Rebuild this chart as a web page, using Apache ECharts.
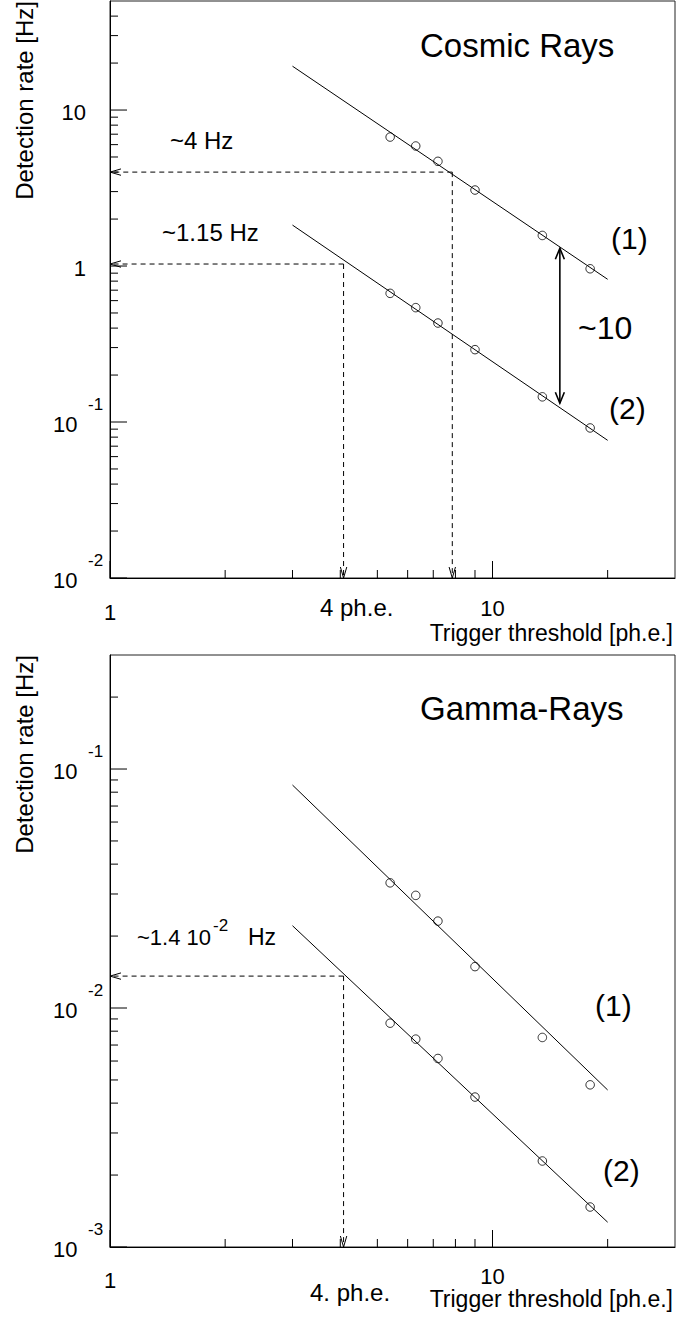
<!DOCTYPE html>
<html><head><meta charset="utf-8">
<script src="https://cdn.jsdelivr.net/npm/echarts@6/dist/echarts.min.js"></script>
<style>html,body{margin:0;padding:0;background:#fff}#c{width:680px;height:1322px}</style>
</head><body><div id="c"></div><script>
// ---- data ----
const thresholds = [5.4, 6.3, 7.2, 9.0, 13.5, 18.0];
const cosmic1 = [6.71, 5.88, 4.69, 3.07, 1.57, 0.96];
const cosmic2 = [0.668, 0.541, 0.431, 0.291, 0.145, 0.0916];
const gamma1 = [0.0334, 0.0296, 0.0231, 0.0149, 0.00753, 0.00477];
const gamma2 = [0.00864, 0.00741, 0.00615, 0.00424, 0.00229, 0.00147];
const fitX = [3, 20];
const cosmicFit1 = [19.1, 0.822];
const cosmicFit2 = [1.83, 0.0763];
const gammaFit1 = [0.0857, 0.00454];
const gammaFit2 = [0.0221, 0.00127];
// guide arrows [xFrom, yFrom, xTo, yTo]
const cosmicGuides = [[7.85, 4, 1, 4], [7.85, 4, 7.85, 0.01], [4.08, 1.03, 1, 1.03], [4.08, 1.03, 4.08, 0.01]];
const cosmicRatio = [[15, 1.30, 15, 0.132]];
const gammaGuides = [[4.08, 0.0136, 1, 0.0136], [4.08, 0.0136, 4.08, 0.001]];
// ticks and labels
const xMajorTicks = [1, 10];
const xMajorLabels = ['1', '10'];
const xMinorTicks = [2, 3, 4, 5, 6, 7, 8, 9, 20];
const xRange = [1, 30];
const yTopRange = [0.01, 50];
const yTopMajor = [0.01, 0.1, 1, 10];
const yTopBase = ['10', '10', '1', '10'];
const yTopExp = ['-2', '-1', '', ''];
const yTopMinor = [0.02,0.03,0.04,0.05,0.06,0.07,0.08,0.09,0.2,0.3,0.4,0.5,0.6,0.7,0.8,0.9,2,3,4,5,6,7,8,9,20,30,40];
const yBotRange = [0.001, 0.3];
const yBotMajor = [0.001, 0.01, 0.1];
const yBotBase = ['10', '10', '10'];
const yBotExp = ['-3', '-2', '-1'];
const yBotMinor = [0.002,0.003,0.004,0.005,0.006,0.007,0.008,0.009,0.02,0.03,0.04,0.05,0.06,0.07,0.08,0.09,0.2];

const FONT = '"Liberation Sans", Arial, Helvetica, sans-serif';
const chart = echarts.init(document.getElementById('c'), null, {renderer: 'svg', width: 680, height: 1322});

function pairs(xs, ys) { return xs.map((x, i) => [x, ys[i]]); }

function txt(text, size, align, vAlign) {
  return {text, fontSize: size, fontFamily: FONT, fill: '#000',
          align, textAlign: align, verticalAlign: vAlign, textVerticalAlign: vAlign};
}

function tickSeries(gi, yMajor, yBase, yExp, yMinor, yLo, xLabOff) {
  const data = [];
  xMajorTicks.forEach((v, i) => data.push([v, yLo, 1, i]));
  xMinorTicks.forEach(v => data.push([v, yLo, 0, -1]));
  yMajor.forEach((v, i) => data.push([xRange[0], v, 3, i]));
  yMinor.forEach(v => data.push([xRange[0], v, 2, -1]));
  return {
    type: 'custom', xAxisIndex: gi, yAxisIndex: gi, data, silent: true, z: 5, clip: false,
    renderItem(params, api) {
      const kind = api.value(2), li = api.value(3);
      const p = api.coord([api.value(0), api.value(1)]);
      const len = (kind % 2) ? 17 : 8;
      const children = [];
      if (kind < 2) {
        children.push({type: 'line', shape: {x1: p[0], y1: p[1], x2: p[0], y2: p[1] - len}, style: {stroke: '#000', lineWidth: 1}});
        if (kind === 1) {
          const off = xLabOff[li];
          children.push({type: 'text', x: p[0], y: p[1] + off, style: txt(xMajorLabels[li], 22, 'center', 'middle')});
        }
      } else {
        children.push({type: 'line', shape: {x1: p[0], y1: p[1], x2: p[0] + len, y2: p[1]}, style: {stroke: '#000', lineWidth: 1}});
        if (kind === 3) {
          const base = yBase[li], ex = yExp[li];
          if (ex) {
            children.push({type: 'text', x: p[0] - 32.5, y: p[1] + 2.5, style: txt(base, 22, 'right', 'middle')});
            children.push({type: 'text', x: p[0] - 22, y: p[1] - 18, style: txt(ex, 17, 'left', 'middle')});
          } else {
            children.push({type: 'text', x: p[0] - 24, y: p[1] + 2.5, style: txt(base, 22, 'right', 'middle')});
          }
        }
      }
      return {type: 'group', children};
    }
  };
}

function arrowSeries(gi, items, dashed, both) {
  return {
    type: 'custom', xAxisIndex: gi, yAxisIndex: gi, data: items, silent: true, z: 4, clip: false,
    renderItem(params, api) {
      const a = api.coord([api.value(0), api.value(1)]);
      const b = api.coord([api.value(2), api.value(3)]);
      const L = 11, W = both ? 4.5 : 3.2;
      const head = (tip, from) => {
        const dx = tip[0] - from[0], dy = tip[1] - from[1];
        const d = Math.hypot(dx, dy), ux = dx / d, uy = dy / d;
        return [[tip[0] - L * ux - W * uy, tip[1] - L * uy + W * ux], tip, [tip[0] - L * ux + W * uy, tip[1] - L * uy - W * ux]];
      };
      const st = {stroke: '#000', fill: null, lineWidth: 1};
      const children = [
        {type: 'line', shape: {x1: a[0], y1: a[1], x2: b[0], y2: b[1]},
         style: {stroke: '#000', lineWidth: both ? 1.6 : 1, lineDash: dashed ? [5, 4] : null}},
        {type: 'polyline', shape: {points: head(b, a)}, style: Object.assign({}, st, {lineWidth: both ? 1.6 : 1})}
      ];
      if (both) children.push({type: 'polyline', shape: {points: head(a, b)}, style: Object.assign({}, st, {lineWidth: 1.6})});
      return {type: 'group', children};
    }
  };
}

function scatter(gi, ys) {
  return {type: 'scatter', xAxisIndex: gi, yAxisIndex: gi, data: pairs(thresholds, ys), symbol: 'circle', symbolSize: 8.5,
          itemStyle: {color: 'rgba(0,0,0,0)', borderColor: '#000', borderWidth: 1}, z: 3, silent: true};
}
function fitLine(gi, ys) {
  return {type: 'line', xAxisIndex: gi, yAxisIndex: gi, data: pairs(fitX, ys), showSymbol: false, symbol: 'none',
          lineStyle: {color: '#000', width: 1}, z: 2, silent: true};
}

const axisCommon = {
  type: 'log', logBase: 10, axisLine: {show: true, lineStyle: {color: '#000', width: 1}},
  axisTick: {show: false}, axisLabel: {show: false}, splitLine: {show: false}, minorTick: {show: false}
};

const option = {
  animation: false,
  backgroundColor: '#fff',
  grid: [
    {left: 110, top: 1, width: 565, height: 577, show: true, borderColor: '#222', borderWidth: 1, containLabel: false},
    {left: 110, top: 655, width: 565, height: 592, show: true, borderColor: '#222', borderWidth: 1, containLabel: false}
  ],
  xAxis: [
    Object.assign({}, axisCommon, {gridIndex: 0, min: xRange[0], max: xRange[1]}),
    Object.assign({}, axisCommon, {gridIndex: 1, min: xRange[0], max: xRange[1]})
  ],
  yAxis: [
    Object.assign({}, axisCommon, {gridIndex: 0, min: yTopRange[0], max: yTopRange[1]}),
    Object.assign({}, axisCommon, {gridIndex: 1, min: yBotRange[0], max: yBotRange[1]})
  ],
  series: [
    fitLine(0, cosmicFit1), fitLine(0, cosmicFit2),
    scatter(0, cosmic1), scatter(0, cosmic2),
    arrowSeries(0, cosmicGuides, true, false),
    arrowSeries(0, cosmicRatio, false, true),
    tickSeries(0, yTopMajor, yTopBase, yTopExp, yTopMinor, yTopRange[0], [34, 30.5]),
    fitLine(1, gammaFit1), fitLine(1, gammaFit2),
    scatter(1, gamma1), scatter(1, gamma2),
    arrowSeries(1, gammaGuides, true, false),
    tickSeries(1, yBotMajor, yBotBase, yBotExp, yBotMinor, yBotRange[0], [33, 29])
  ],
  graphic: [
    {type: 'text', x: 24, y: 1, rotation: Math.PI / 2, style: txt('Detection rate [Hz]', 24, 'right', 'middle')},
    {type: 'text', x: 24, y: 655, rotation: Math.PI / 2, style: txt('Detection rate [Hz]', 24, 'right', 'middle')},
    {type: 'text', x: 420, y: 45, style: txt('Cosmic Rays', 33, 'left', 'middle')},
    {type: 'text', x: 170, y: 140, style: txt('~4 Hz', 24, 'left', 'middle')},
    {type: 'text', x: 162, y: 232, style: txt('~1.15 Hz', 24, 'left', 'middle')},
    {type: 'text', x: 611, y: 238, style: txt('(1)', 30, 'left', 'middle')},
    {type: 'text', x: 578, y: 328, style: txt('~10', 32, 'left', 'middle')},
    {type: 'text', x: 609, y: 408, style: txt('(2)', 30, 'left', 'middle')},
    {type: 'text', x: 320, y: 607, style: txt('4 ph.e.', 24, 'left', 'middle')},
    {type: 'text', x: 673, y: 633, style: txt('Trigger threshold [ph.e.]', 23, 'right', 'middle')},
    {type: 'text', x: 420, y: 708, style: txt('Gamma-Rays', 33, 'left', 'middle')},
    {type: 'text', x: 137, y: 937, style: txt('~1.4 10', 22, 'left', 'middle')},
    {type: 'text', x: 213, y: 925, style: txt('-2', 17, 'left', 'middle')},
    {type: 'text', x: 248, y: 937, style: txt('Hz', 23, 'left', 'middle')},
    {type: 'text', x: 595, y: 1005, style: txt('(1)', 30, 'left', 'middle')},
    {type: 'text', x: 603, y: 1170, style: txt('(2)', 30, 'left', 'middle')},
    {type: 'text', x: 310, y: 1292, style: txt('4. ph.e.', 24, 'left', 'middle')},
    {type: 'text', x: 673, y: 1299, style: txt('Trigger threshold [ph.e.]', 23, 'right', 'middle')}
  ]
};
chart.setOption(option);
</script></body></html>
